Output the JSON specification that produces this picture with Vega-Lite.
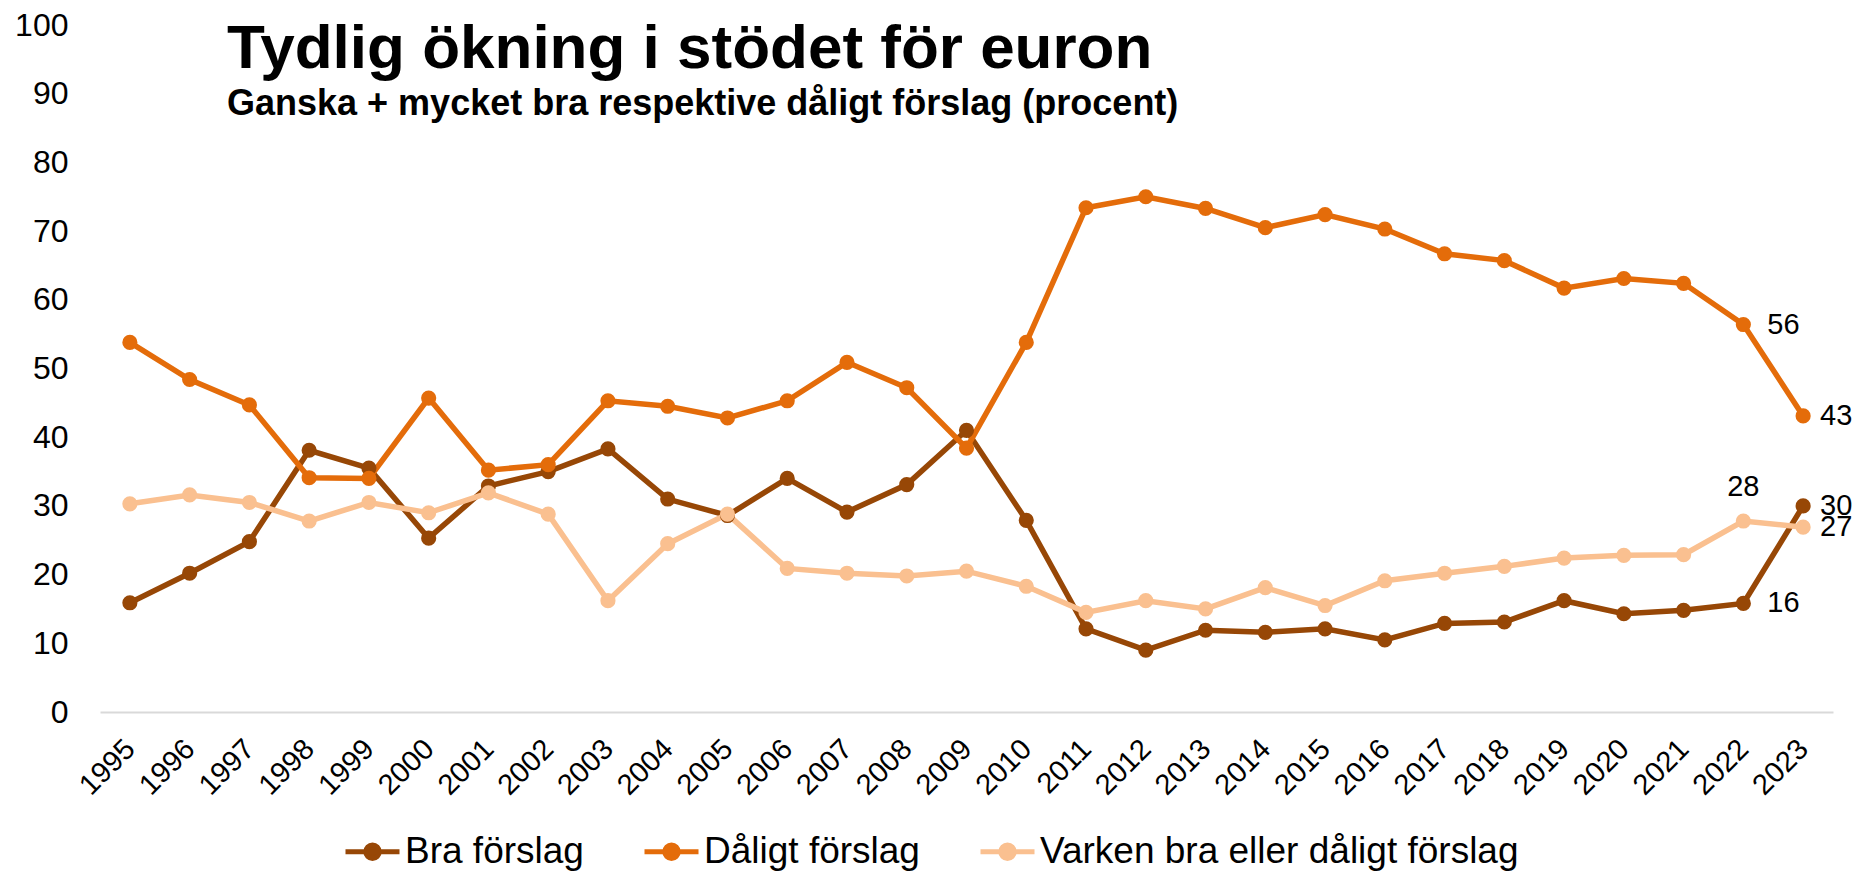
{
  "$schema": "https://vega.github.io/schema/vega-lite/v6.json",
  "autosize": {"type": "none"},
  "width": 1733,
  "height": 687,
  "padding": {"left": 100, "top": 25, "right": 24, "bottom": 161},
  "background": "white",
  "title": {
    "text": "Tydlig ökning i stödet för euron",
    "subtitle": "Ganska + mycket bra respektive dåligt förslag (procent)",
    "anchor": "start",
    "frame": "group",
    "dx": 127,
    "offset": -114,
    "font": "Liberation Sans",
    "fontSize": 62,
    "fontWeight": "bold",
    "color": "#000000",
    "subtitleFont": "Liberation Sans",
    "subtitleFontSize": 36,
    "subtitleFontWeight": "bold",
    "subtitleColor": "#000000",
    "subtitlePadding": 6
  },
  "config": {
    "view": {"stroke": null},
    "font": "Liberation Sans"
  },
  "data": {
    "values": [
      {"year": "1995", "serie": "Bra förslag", "v": 15.9},
      {"year": "1996", "serie": "Bra förslag", "v": 20.2},
      {"year": "1997", "serie": "Bra förslag", "v": 24.8},
      {"year": "1998", "serie": "Bra förslag", "v": 38.1},
      {"year": "1999", "serie": "Bra förslag", "v": 35.5},
      {"year": "2000", "serie": "Bra förslag", "v": 25.3},
      {"year": "2001", "serie": "Bra förslag", "v": 32.9},
      {"year": "2002", "serie": "Bra förslag", "v": 35.0},
      {"year": "2003", "serie": "Bra förslag", "v": 38.3},
      {"year": "2004", "serie": "Bra förslag", "v": 31.0},
      {"year": "2005", "serie": "Bra förslag", "v": 28.6},
      {"year": "2006", "serie": "Bra förslag", "v": 34.0},
      {"year": "2007", "serie": "Bra förslag", "v": 29.1},
      {"year": "2008", "serie": "Bra förslag", "v": 33.1},
      {"year": "2009", "serie": "Bra förslag", "v": 41.0},
      {"year": "2010", "serie": "Bra förslag", "v": 27.9},
      {"year": "2011", "serie": "Bra förslag", "v": 12.1},
      {"year": "2012", "serie": "Bra förslag", "v": 9.0},
      {"year": "2013", "serie": "Bra förslag", "v": 11.9},
      {"year": "2014", "serie": "Bra förslag", "v": 11.6},
      {"year": "2015", "serie": "Bra förslag", "v": 12.1},
      {"year": "2016", "serie": "Bra förslag", "v": 10.5},
      {"year": "2017", "serie": "Bra förslag", "v": 12.9},
      {"year": "2018", "serie": "Bra förslag", "v": 13.1},
      {"year": "2019", "serie": "Bra förslag", "v": 16.2},
      {"year": "2020", "serie": "Bra förslag", "v": 14.3},
      {"year": "2021", "serie": "Bra förslag", "v": 14.8},
      {"year": "2022", "serie": "Bra förslag", "v": 15.8},
      {"year": "2023", "serie": "Bra förslag", "v": 30.0},
      {"year": "1995", "serie": "Dåligt förslag", "v": 53.8},
      {"year": "1996", "serie": "Dåligt förslag", "v": 48.4},
      {"year": "1997", "serie": "Dåligt förslag", "v": 44.7},
      {"year": "1998", "serie": "Dåligt förslag", "v": 34.1},
      {"year": "1999", "serie": "Dåligt förslag", "v": 34.0},
      {"year": "2000", "serie": "Dåligt förslag", "v": 45.7},
      {"year": "2001", "serie": "Dåligt förslag", "v": 35.2},
      {"year": "2002", "serie": "Dåligt förslag", "v": 36.0},
      {"year": "2003", "serie": "Dåligt förslag", "v": 45.3},
      {"year": "2004", "serie": "Dåligt förslag", "v": 44.5},
      {"year": "2005", "serie": "Dåligt förslag", "v": 42.8},
      {"year": "2006", "serie": "Dåligt förslag", "v": 45.3},
      {"year": "2007", "serie": "Dåligt förslag", "v": 50.9},
      {"year": "2008", "serie": "Dåligt förslag", "v": 47.2},
      {"year": "2009", "serie": "Dåligt förslag", "v": 38.4},
      {"year": "2010", "serie": "Dåligt förslag", "v": 53.8},
      {"year": "2011", "serie": "Dåligt förslag", "v": 73.4},
      {"year": "2012", "serie": "Dåligt förslag", "v": 75.0},
      {"year": "2013", "serie": "Dåligt förslag", "v": 73.3},
      {"year": "2014", "serie": "Dåligt förslag", "v": 70.5},
      {"year": "2015", "serie": "Dåligt förslag", "v": 72.4},
      {"year": "2016", "serie": "Dåligt förslag", "v": 70.3},
      {"year": "2017", "serie": "Dåligt förslag", "v": 66.7},
      {"year": "2018", "serie": "Dåligt förslag", "v": 65.7},
      {"year": "2019", "serie": "Dåligt förslag", "v": 61.7},
      {"year": "2020", "serie": "Dåligt förslag", "v": 63.1},
      {"year": "2021", "serie": "Dåligt förslag", "v": 62.4},
      {"year": "2022", "serie": "Dåligt förslag", "v": 56.4},
      {"year": "2023", "serie": "Dåligt förslag", "v": 43.1},
      {"year": "1995", "serie": "Varken bra eller dåligt förslag", "v": 30.3},
      {"year": "1996", "serie": "Varken bra eller dåligt förslag", "v": 31.6},
      {"year": "1997", "serie": "Varken bra eller dåligt förslag", "v": 30.5},
      {"year": "1998", "serie": "Varken bra eller dåligt förslag", "v": 27.8},
      {"year": "1999", "serie": "Varken bra eller dåligt förslag", "v": 30.5},
      {"year": "2000", "serie": "Varken bra eller dåligt förslag", "v": 29.0},
      {"year": "2001", "serie": "Varken bra eller dåligt förslag", "v": 31.9},
      {"year": "2002", "serie": "Varken bra eller dåligt förslag", "v": 28.8},
      {"year": "2003", "serie": "Varken bra eller dåligt förslag", "v": 16.2},
      {"year": "2004", "serie": "Varken bra eller dåligt förslag", "v": 24.5},
      {"year": "2005", "serie": "Varken bra eller dåligt förslag", "v": 28.8},
      {"year": "2006", "serie": "Varken bra eller dåligt förslag", "v": 20.9},
      {"year": "2007", "serie": "Varken bra eller dåligt förslag", "v": 20.2},
      {"year": "2008", "serie": "Varken bra eller dåligt förslag", "v": 19.8},
      {"year": "2009", "serie": "Varken bra eller dåligt förslag", "v": 20.5},
      {"year": "2010", "serie": "Varken bra eller dåligt förslag", "v": 18.3},
      {"year": "2011", "serie": "Varken bra eller dåligt förslag", "v": 14.5},
      {"year": "2012", "serie": "Varken bra eller dåligt förslag", "v": 16.2},
      {"year": "2013", "serie": "Varken bra eller dåligt förslag", "v": 15.0},
      {"year": "2014", "serie": "Varken bra eller dåligt förslag", "v": 18.1},
      {"year": "2015", "serie": "Varken bra eller dåligt förslag", "v": 15.5},
      {"year": "2016", "serie": "Varken bra eller dåligt förslag", "v": 19.1},
      {"year": "2017", "serie": "Varken bra eller dåligt förslag", "v": 20.2},
      {"year": "2018", "serie": "Varken bra eller dåligt förslag", "v": 21.2},
      {"year": "2019", "serie": "Varken bra eller dåligt förslag", "v": 22.4},
      {"year": "2020", "serie": "Varken bra eller dåligt förslag", "v": 22.8},
      {"year": "2021", "serie": "Varken bra eller dåligt förslag", "v": 22.9},
      {"year": "2022", "serie": "Varken bra eller dåligt förslag", "v": 27.8},
      {"year": "2023", "serie": "Varken bra eller dåligt förslag", "v": 26.9}
    ]
  },
  "encoding": {
    "x": {
      "field": "year",
      "type": "ordinal",
      "scale": {"type": "point", "padding": 0.5},
      "axis": {
        "title": null,
        "labelAngle": -45,
        "labelAlign": "right",
        "labelBaseline": "middle",
        "labelFontSize": 29,
        "labelColor": "#000000",
        "labelPadding": 32,
        "ticks": false,
        "domainColor": "#D9D9D9",
        "domainWidth": 2,
        "grid": false
      }
    },
    "y": {
      "field": "v",
      "type": "quantitative",
      "scale": {"domain": [0, 100], "nice": false, "zero": true},
      "axis": {
        "title": null,
        "values": [0, 10, 20, 30, 40, 50, 60, 70, 80, 90, 100],
        "labelFontSize": 32,
        "labelColor": "#000000",
        "labelPadding": 32,
        "ticks": false,
        "domain": false,
        "grid": false
      }
    },
    "color": {
      "field": "serie",
      "type": "nominal",
      "scale": {
        "domain": ["Bra förslag", "Dåligt förslag", "Varken bra eller dåligt förslag"],
        "range": ["#974706", "#E46C0A", "#FAC090"]
      },
      "legend": {
        "title": null,
        "orient": "none",
        "direction": "horizontal",
        "legendX": 243,
        "legendY": 797,
        "labelFontSize": 37,
        "labelLimit": 0,
        "labelColor": "#000000",
        "labelOffset": 3,
        "columnPadding": 50,
        "symbolType": "M-1,0L1,0M-0.25,0A0.25,0.25,0,1,0,0.25,0A0.25,0.25,0,1,0,-0.25,0Z",
        "symbolSize": 2916,
        "symbolStrokeWidth": 5,
        "encode": {
          "symbols": {"update": {"fill": {"scale": "color", "field": "value"}, "stroke": {"scale": "color", "field": "value"}, "opacity": {"value": 1}}}
        }
      }
    }
  },
  "layer": [
    {
      "mark": {"type": "line", "strokeWidth": 5.5, "point": {"filled": true, "size": 230, "opacity": 1}}
    },
    {
      "transform": [{"filter": "datum.year == '2023'"}],
      "mark": {"type": "text", "align": "left", "baseline": "middle", "dx": 17, "fontSize": 29},
      "encoding": {"text": {"field": "v", "format": ".0f"}, "color": {"value": "#000000"}}
    },
    {
      "transform": [{"filter": "datum.year == '2022' && datum.serie != 'Varken bra eller dåligt förslag'"}],
      "mark": {"type": "text", "align": "left", "baseline": "middle", "dx": 24, "fontSize": 29},
      "encoding": {"text": {"field": "v", "format": ".0f"}, "color": {"value": "#000000"}}
    },
    {
      "transform": [{"filter": "datum.year == '2022' && datum.serie == 'Varken bra eller dåligt förslag'"}],
      "mark": {"type": "text", "align": "center", "baseline": "middle", "dy": -34, "fontSize": 29},
      "encoding": {"text": {"field": "v", "format": ".0f"}, "color": {"value": "#000000"}}
    }
  ]
}
